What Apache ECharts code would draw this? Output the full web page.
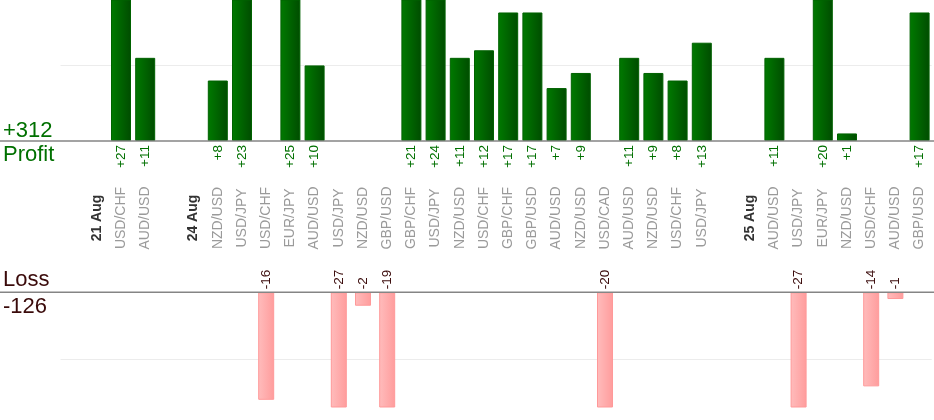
<!DOCTYPE html>
<html>
<head>
<meta charset="utf-8">
<script src="https://cdn.jsdelivr.net/npm/echarts@6/dist/echarts.min.js"></script>
<style>
html,body{margin:0;padding:0;background:#fff}
#chart{width:934px;height:420px}
</style>
</head>
<body>
<div id="chart"></div>
<script>
// one slot per trade, '' = empty slot, 'dd Aug' = day marker
var labels = ['', '21 Aug', 'USD/CHF', 'AUD/USD', '', '24 Aug', 'NZD/USD', 'USD/JPY', 'USD/CHF', 'EUR/JPY',
  'AUD/USD', 'USD/JPY', 'NZD/USD', 'GBP/USD', 'GBP/CHF', 'USD/JPY', 'NZD/USD', 'USD/CHF', 'GBP/CHF', 'GBP/USD',
  'AUD/USD', 'NZD/USD', 'USD/CAD', 'AUD/USD', 'NZD/USD', 'USD/CHF', 'USD/JPY', '', '25 Aug', 'AUD/USD',
  'USD/JPY', 'EUR/JPY', 'NZD/USD', 'USD/CHF', 'AUD/USD', 'GBP/USD'];
var days = ['21 Aug', '24 Aug', '25 Aug'];
var profit = [null, null, 27, 11, null, null, 8, 23, null, 25,
  10, null, null, null, 21, 24, 11, 12, 17, 17,
  7, 9, null, 11, 9, 8, 13, null, null, 11,
  null, 20, 1, null, null, 17];
var loss = [null, null, null, null, null, null, null, null, -16, null,
  null, -27, -2, -19, null, null, null, null, null, null,
  null, null, -20, null, null, null, null, null, null, null,
  -27, null, null, -14, -1, null];

var totalProfit = 0, totalLoss = 0;
for (var i = 0; i < profit.length; i++) {
  if (profit[i] != null) totalProfit += profit[i];
  if (loss[i] != null) totalLoss += loss[i];
}

var green = '#007000', maroon = '#3a0a0a';
var font = '"Liberation Sans", Arial, sans-serif';
var slots = labels.map(function (_, i) { return String(i); });

// plot geometry (px)
var plotLeft = 60.5, plotWidth = 871.2;
var profitBase = 141, lossTop = 292.3, lossHeight = 114.7;

var option = {
  animation: false,
  grid: [
    { left: plotLeft, top: 0, width: plotWidth, height: profitBase },
    { left: plotLeft, top: lossTop, width: plotWidth, height: lossHeight },
    { left: plotLeft, top: 217, width: plotWidth, height: 1 }
  ],
  xAxis: [
    {
      type: 'category', gridIndex: 0, data: slots,
      axisLine: { show: false }, axisTick: { show: false },
      axisLabel: {
        interval: 0, rotate: 90, margin: 4, color: green, fontSize: 13.5, fontFamily: font,
        formatter: function (v, i) { return profit[i] != null ? '+' + profit[i] : ''; }
      }
    },
    {
      type: 'category', gridIndex: 1, data: slots, position: 'top',
      axisLine: { show: false }, axisTick: { show: false },
      axisLabel: {
        interval: 0, rotate: 90, margin: 3, color: maroon, fontSize: 13.5, fontFamily: font,
        formatter: function (v, i) { return loss[i] != null ? String(loss[i]) : ''; }
      }
    },
    {
      type: 'category', gridIndex: 2, data: slots,
      axisLine: { show: false }, axisTick: { show: false },
      axisLabel: {
        interval: 0, rotate: 90, margin: 0, align: 'center', verticalAlign: 'middle',
        color: '#9a9a9a', fontSize: 14, fontFamily: font,
        formatter: function (v, i) {
          var t = labels[i];
          return days.indexOf(t) >= 0 ? '{d|' + t + '}' : t;
        },
        rich: {
          d: { fontWeight: 'bold', color: '#333', fontSize: 14, fontFamily: font }
        }
      }
    }
  ],
  yAxis: [
    {
      type: 'value', gridIndex: 0, min: 0, max: 18.65, interval: 10,
      axisLabel: { show: false }, axisLine: { show: false }, axisTick: { show: false },
      splitLine: { showMinLine: false, showMaxLine: false, lineStyle: { color: '#ececec', width: 1 } }
    },
    {
      type: 'value', gridIndex: 1, min: 0, max: 17.07, interval: 10, inverse: true,
      axisLabel: { show: false }, axisLine: { show: false }, axisTick: { show: false },
      splitLine: { showMinLine: false, showMaxLine: false, lineStyle: { color: '#ececec', width: 1 } }
    },
    { type: 'value', gridIndex: 2, show: false }
  ],
  series: [
    {
      type: 'bar', xAxisIndex: 0, yAxisIndex: 0, barWidth: 20, clip: true,
      data: profit,
      itemStyle: {
        color: new echarts.graphic.LinearGradient(0, 0, 1, 0, [
          { offset: 0, color: '#007a00' }, { offset: 1, color: '#004c00' }
        ]),
        borderColor: '#006200', borderWidth: 1
      }
    },
    {
      type: 'bar', xAxisIndex: 1, yAxisIndex: 1, barWidth: 16, clip: true,
      data: loss.map(function (v) { return v == null ? null : -v; }),
      itemStyle: {
        color: new echarts.graphic.LinearGradient(0, 0, 1, 0, [
          { offset: 0, color: '#ffbcbc' }, { offset: 1, color: '#ff9c9c' }
        ]),
        borderColor: '#ff9999', borderWidth: 1
      }
    }
  ],
  graphic: [
    { type: 'line', shape: { x1: 0, y1: profitBase, x2: 934, y2: profitBase }, style: { stroke: '#858585', lineWidth: 1.5 }, z: 10 },
    { type: 'line', shape: { x1: 0, y1: lossTop, x2: 934, y2: lossTop }, style: { stroke: '#858585', lineWidth: 1.5 }, z: 10 },
    { type: 'text', x: 3, y: 130.5, style: { text: '+' + totalProfit, fill: green, font: '22px ' + font, verticalAlign: 'middle' } },
    { type: 'text', x: 3, y: 155, style: { text: 'Profit', fill: green, font: '22px ' + font, verticalAlign: 'middle' } },
    { type: 'text', x: 3, y: 280, style: { text: 'Loss', fill: maroon, font: '22px ' + font, verticalAlign: 'middle' } },
    { type: 'text', x: 3, y: 306.5, style: { text: String(totalLoss), fill: maroon, font: '22px ' + font, verticalAlign: 'middle' } }
  ]
};

var myChart = echarts.init(document.getElementById('chart'));
myChart.setOption(option);
</script>
</body>
</html>
